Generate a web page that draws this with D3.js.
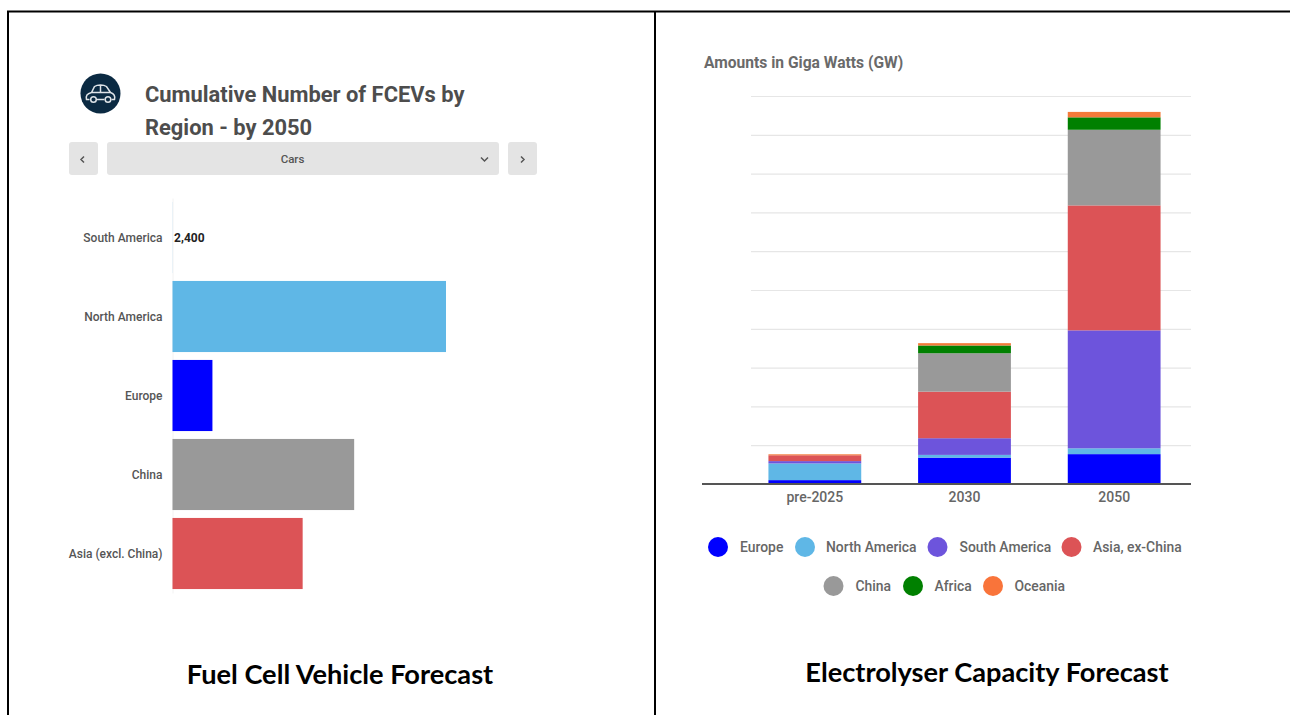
<!DOCTYPE html>
<html>
<head>
<meta charset="utf-8">
<script src="https://cdn.jsdelivr.net/npm/d3@7"></script>
<style>
    html, body { margin: 0; padding: 0; background: #fff; }
    svg { display: block; }
    .axis text { font-family: Roboto, sans-serif; }
</style>
</head>
<body>
<div class="main"></div>
<script>

const regions = ["South America", "North America", "Europe", "China", "Asia (excl. China)"]
const fcevValues = [2400, 6850000, 1000000, 4550000, 3260000]
const fcevColors = ["#5fb7e6", "#5fb7e6", "#0000ff", "#999999", "#dc5356"]

const years = ["pre-2025", "2030", "2050"]
const seriesNames = ["Europe", "North America", "South America", "Asia, ex-China", "China", "Africa", "Oceania"]
const seriesColors = ["#0000ff", "#5fb7e6", "#6d54dc", "#dc5356", "#999999", "#008000", "#f47a3a"]
const europe = [1.0, 6.8, 7.7]
const northAmerica = [4.3, 0.7, 1.5]
const southAmerica = [0.6, 4.3, 30.4]
const asiaExChina = [1.5, 12, 32.2]
const china = [0, 9.9, 19.5]
const africa = [0, 2, 3.2]
const oceania = [0.25, 0.6, 1.4]
const gridTicks = [0, 10, 20, 30, 40, 50, 60, 70, 80, 90, 100]

const w = 1290
const h = 715

const svg = d3.select(".main")
    .append("svg")
    .attr("width", w)
    .attr("height", h)

////////////
// FRAME  //
////////////

const frame = svg.append("g").attr("stroke", "#000").attr("stroke-width", 2)
frame.append("line").attr("x1", 7).attr("x2", 1290).attr("y1", 11.5).attr("y2", 11.5)
frame.append("line").attr("x1", 8).attr("x2", 8).attr("y1", 11).attr("y2", h)
frame.append("line").attr("x1", 655).attr("x2", 655).attr("y1", 11).attr("y2", h)

const caption = (x, y, t) => svg.append("text")
    .attr("x", x)
    .attr("y", y)
    .attr("text-anchor", "middle")
    .attr("font-family", "Lato, sans-serif")
    .attr("font-weight", 700)
    .attr("font-size", 27.2)
    .attr("fill", "#000")
    .text(t)

caption(340, 684, "Fuel Cell Vehicle Forecast")
caption(987, 682, "Electrolyser Capacity Forecast")

////////////
// HEADER //
////////////

const icon = svg.append("g").attr("transform", "translate(100.5, 93.5)")
icon.append("circle").attr("r", 20).attr("fill", "#0b2a42")
icon.append("path")
    .attr("d", "M-11 6 L-14 6 C-15 2 -13 0 -9 -1 L-6 -7 C-3 -9 3 -9 6 -7 L10 -1 C13 0 15 2 14 6 L11 6 M-3.5 6 L4 6 M-9 -1 L10 -1 M0 -8 L0 -1")
    .attr("fill", "none")
    .attr("stroke", "#dfe4e8")
    .attr("stroke-width", 1.5)
icon.selectAll(".wheel")
    .data([-7, 7.5])
    .enter()
    .append("circle")
    .attr("class", "wheel")
    .attr("cx", d => d)
    .attr("cy", 6)
    .attr("r", 2.8)
    .attr("fill", "none")
    .attr("stroke", "#dfe4e8")
    .attr("stroke-width", 1.5)

const title = svg.append("text")
    .attr("font-family", "Roboto, sans-serif")
    .attr("font-weight", 700)
    .attr("font-size", 21.9)
    .attr("fill", "#4d4d4d")
title.append("tspan").attr("x", 145).attr("y", 102).text("Cumulative Number of FCEVs by")
title.append("tspan").attr("x", 145).attr("y", 135).text("Region - by 2050")

const buttons = svg.append("g").attr("fill", "#e4e4e4")
buttons.append("rect").attr("x", 69).attr("y", 142).attr("width", 29).attr("height", 33).attr("rx", 3)
buttons.append("rect").attr("x", 107).attr("y", 142).attr("width", 392).attr("height", 33).attr("rx", 3)
buttons.append("rect").attr("x", 508).attr("y", 142).attr("width", 29).attr("height", 33).attr("rx", 3)

svg.append("text")
    .attr("x", 292.5)
    .attr("y", 163)
    .attr("text-anchor", "middle")
    .attr("font-family", "Roboto, sans-serif")
    .attr("font-weight", 500)
    .attr("font-size", 11.5)
    .attr("fill", "#555")
    .text("Cars")

svg.append("path")
    .attr("d", "M84 156.5 L81 159.5 L84 162.5 M521 156.5 L524 159.5 L521 162.5 M481 157.5 L484.5 161 L488 157.5")
    .attr("fill", "none")
    .attr("stroke", "#555")
    .attr("stroke-width", 1.5)

//////////////
// FCEV BAR //
//////////////

const xFcev = d3.scaleLinear()
    .domain([0, 6850000])
    .range([172.5, 446])

const yFcev = d3.scaleBand()
    .domain(regions)
    .range([198, 593])
    .paddingInner(0.1)
    .paddingOuter(0.05)

const yFcevAxis = svg.append("g")
    .attr("class", "axis")
    .attr("transform", `translate(${xFcev(0)}, 0)`)
    .call(d3.axisLeft(yFcev).tickSize(0).tickPadding(10))

yFcevAxis.select(".domain").attr("stroke", "#f2f2f2")
yFcevAxis.selectAll("text")
    .attr("y", 1)
    .attr("font-size", 12)
    .attr("font-weight", 500)
    .attr("fill", "#555")

svg.selectAll(".fcev")
    .data(regions)
    .enter()
    .append("rect")
    .attr("class", "fcev")
    .attr("x", xFcev(0))
    .attr("y", d => yFcev(d))
    .attr("width", (d, i) => xFcev(fcevValues[i]) - xFcev(0))
    .attr("height", yFcev.bandwidth())
    .attr("fill", (d, i) => fcevColors[i])

svg.append("text")
    .attr("x", xFcev(fcevValues[0]) + 1.5)
    .attr("y", yFcev(regions[0]) + yFcev.bandwidth() / 2 + 4)
    .attr("font-family", "Roboto, sans-serif")
    .attr("font-weight", 700)
    .attr("font-size", 12)
    .attr("fill", "#222")
    .text(d3.format(",")(fcevValues[0]))

//////////////////
// ELECTROLYSER //
//////////////////

svg.append("text")
    .attr("x", 704)
    .attr("y", 68)
    .attr("font-family", "Roboto, sans-serif")
    .attr("font-weight", 700)
    .attr("font-size", 15.6)
    .attr("fill", "#6a6a6a")
    .text("Amounts in Giga Watts (GW)")

const yGw = d3.scaleLinear()
    .domain([0, 100])
    .range([484, 96])

const xGw = d3.scaleBand()
    .domain(years)
    .range([740, 1189])
    .paddingInner(0.38)
    .paddingOuter(0.19)

const grid = svg.append("g")
    .attr("transform", "translate(1191, 0)")
    .call(d3.axisLeft(yGw).tickValues(gridTicks).tickSize(440).tickFormat(""))

grid.select(".domain").remove()
grid.selectAll("line").attr("stroke", "#e6e6e6").attr("stroke-width", 1.2)

const gwTable = years.map((y, i) => ({
    year: y,
    "Europe": europe[i],
    "North America": northAmerica[i],
    "South America": southAmerica[i],
    "Asia, ex-China": asiaExChina[i],
    "China": china[i],
    "Africa": africa[i],
    "Oceania": oceania[i]
}))

const stacked = d3.stack().keys(seriesNames)(gwTable)

svg.selectAll(".layer")
    .data(stacked)
    .enter()
    .append("g")
    .attr("class", "layer")
    .attr("fill", (d, i) => seriesColors[i])
    .selectAll("rect")
    .data(d => d)
    .enter()
    .append("rect")
    .attr("x", d => xGw(d.data.year))
    .attr("y", d => yGw(d[1]))
    .attr("width", xGw.bandwidth())
    .attr("height", d => yGw(d[0]) - yGw(d[1]))

const xGwAxis = svg.append("g")
    .attr("class", "axis")
    .attr("transform", `translate(0, ${yGw(0)})`)
    .call(d3.axisBottom(xGw).tickSize(0).tickPadding(8))

xGwAxis.select(".domain").remove()
xGwAxis.selectAll("text")
    .attr("font-size", 14)
    .attr("font-weight", 500)
    .attr("fill", "#666")

svg.append("line")
    .attr("x1", 702)
    .attr("x2", 1191)
    .attr("y1", yGw(0))
    .attr("y2", yGw(0))
    .attr("stroke", "#555")
    .attr("stroke-width", 2)

////////////
// LEGEND //
////////////

const legendDotX = [718, 805, 937.5, 1071.5, 833.5, 913, 993]
const legendTextX = [740, 826, 959.5, 1093, 855.5, 934.5, 1014.5]
const legendY = [547, 547, 547, 547, 586, 586, 586]

const legend = svg.selectAll(".legend")
    .data(seriesNames)
    .enter()
    .append("g")
    .attr("class", "legend")

legend.append("circle")
    .attr("cx", (d, i) => legendDotX[i])
    .attr("cy", (d, i) => legendY[i])
    .attr("r", 10)
    .attr("fill", (d, i) => i === 6 ? "#f9743a" : seriesColors[i])

legend.append("text")
    .attr("x", (d, i) => legendTextX[i])
    .attr("y", (d, i) => legendY[i] + 5)
    .attr("font-family", "Roboto, sans-serif")
    .attr("font-weight", 500)
    .attr("font-size", 13.9)
    .attr("fill", "#666")
    .text(d => d)

</script>
</body>
</html>
